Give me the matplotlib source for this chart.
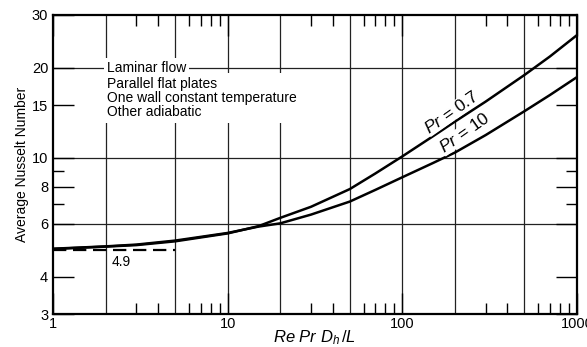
import matplotlib
matplotlib.use("Agg")
import matplotlib.pyplot as plt
from matplotlib.ticker import FixedLocator, FixedFormatter, NullFormatter

plt.rcParams['font.family'] = ['Liberation Sans', 'DejaVu Sans']
plt.rcParams['mathtext.fontset'] = 'custom'
plt.rcParams['mathtext.it'] = 'Liberation Sans:italic'
plt.rcParams['mathtext.rm'] = 'Liberation Sans'

# Data
re_pr = [1, 2, 3, 5, 10, 15, 20, 30, 50, 70, 100, 150, 200, 300, 500, 700, 1000]
nu_pr07 = [4.95, 5.04, 5.1, 5.25, 5.58, 5.9, 6.29, 6.85, 7.85, 8.85, 10.1, 11.8, 13.2, 15.4, 18.9, 21.8, 25.7]
nu_pr10 = [4.96, 5.05, 5.12, 5.28, 5.6, 5.88, 6.03, 6.45, 7.13, 7.8, 8.6, 9.6, 10.4, 11.9, 14.3, 16.2, 18.6]
asym_x = [1, 5]
asym_y = [4.9, 4.9]

x_grid = [2, 5, 10, 20, 50, 100, 200, 500]
y_grid = [6, 10, 20]
x_labels = [1, 10, 100, 1000]
y_labels = [3, 4, 6, 8, 10, 15, 20, 30]
x_minor = [3, 4, 6, 7, 8, 9, 30, 40, 60, 70, 80, 90, 300, 400, 600, 700, 800, 900]
y_minor = [7, 9]

fig = plt.figure(figsize=(5.87, 3.47), dpi=100)
ax = fig.add_axes([53/587, 33/347, 524/587, 299/347])
ax.set_xscale('log')
ax.set_yscale('log')
ax.set_xlim(1, 1000)
ax.set_ylim(3, 30)

for xv in x_grid:
    ax.axvline(xv, color='#222222', lw=0.9, zorder=1)
for yv in y_grid:
    ax.axhline(yv, color='#222222', lw=0.9, zorder=1)

ax.plot(re_pr, nu_pr07, color='black', lw=1.8, zorder=4)
ax.plot(re_pr, nu_pr10, color='black', lw=1.8, zorder=4)
ax.plot(asym_x, asym_y, color='black', lw=1.6, ls=(0, (6, 3)), zorder=4)

ax.xaxis.set_major_locator(FixedLocator(x_labels))
ax.xaxis.set_major_formatter(FixedFormatter([str(v) for v in x_labels]))
ax.xaxis.set_minor_locator(FixedLocator(x_minor))
ax.xaxis.set_minor_formatter(NullFormatter())
ax.yaxis.set_major_locator(FixedLocator(y_labels))
ax.yaxis.set_major_formatter(FixedFormatter([str(v) for v in y_labels]))
ax.yaxis.set_minor_locator(FixedLocator(y_minor))
ax.yaxis.set_minor_formatter(NullFormatter())

ax.tick_params(which='major', direction='in', length=15, width=1.0, top=True, right=True,
               labelsize=10.5, pad=3.5)
ax.tick_params(axis='x', which='major', pad=2.5)
ax.tick_params(which='minor', direction='in', length=8, width=1.0, top=True, right=True)

for s in ax.spines.values():
    s.set_linewidth(1.6)

ax.set_ylabel('Average Nusselt Number', fontsize=10, labelpad=2)
ax.set_xlabel(r'$Re\ Pr\ D_h\,/L$', fontsize=12, labelpad=-2)

ax.text(2.18, 4.47, '4.9', fontsize=10, ha='left', va='center', zorder=5)

ax.text(2.04, 18.6, 'Parallel flat plates\nOne wall constant temperature\nOther adiabatic',
        fontsize=10, ha='left', va='top', linespacing=1.0, zorder=3,
        bbox=dict(facecolor='white', edgecolor='none', pad=3))
ax.text(2.04, 20.0, 'Laminar flow', fontsize=10, ha='left', va='center', zorder=3.5,
        bbox=dict(facecolor='white', edgecolor='none', pad=2))

ax.text(192, 14.2, r'$Pr$ = 0.7', fontsize=12.5, rotation=35, ha='center', va='center',
        zorder=5, bbox=dict(facecolor='white', edgecolor='none', pad=0.3))
ax.text(228, 12.1, r'$Pr$ = 10', fontsize=12.5, rotation=35, ha='center', va='center',
        zorder=5, bbox=dict(facecolor='white', edgecolor='none', pad=0.3))

fig.savefig('out.png', dpi=100)
